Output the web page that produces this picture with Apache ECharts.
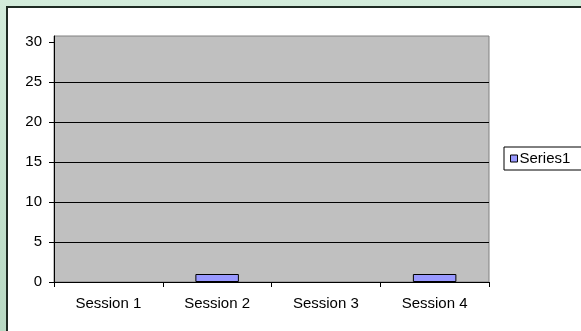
<!DOCTYPE html>
<html>
<head>
<meta charset="utf-8">
<script src="https://cdn.jsdelivr.net/npm/echarts@6/dist/echarts.min.js"></script>
<style>
  html, body { margin: 0; padding: 0; width: 581px; height: 331px; overflow: hidden;
    background: linear-gradient(to bottom, #d3ecdb, #b8d9c3); }
  #frame { position: absolute; left: 6px; top: 6px; width: 600px; height: 340px;
    background: #ffffff; border-left: 2px solid #1e2a22; border-top: 2px solid #1e2a22; }
  #chart { position: absolute; left: 0; top: 0; width: 581px; height: 331px; }
</style>
</head>
<body>
<div id="frame"></div>
<div id="chart"></div>
<script>
// Chart data
const categories = ['Session 1', 'Session 2', 'Session 3', 'Session 4'];
const series1 = [0, 1, 0, 1];
const yTicks = [0, 5, 10, 15, 20, 25, 30];
const seriesName = 'Series1';

const chart = echarts.init(document.getElementById('chart'), null, { renderer: 'canvas' });
const font = 'Liberation Sans, Arial, sans-serif';

// Zero-height bars are left undrawn (no outline sliver on the axis)
const barData = series1.map(v => v === 0
  ? { value: v, itemStyle: { borderWidth: 0, opacity: 0 } }
  : { value: v });

chart.setOption({
  animation: false,
  backgroundColor: 'transparent',
  grid: {
    left: 54, right: 92, top: 36, bottom: 49,
    show: true, backgroundColor: '#c0c0c0', borderColor: '#808080', borderWidth: 1
  },
  legend: {
    data: [seriesName],
    left: 504, top: 147,
    orient: 'vertical',
    backgroundColor: '#ffffff',
    borderColor: '#000000', borderWidth: 1, borderRadius: 0,
    padding: [4, 12, 4, 6],
    icon: 'rect', itemWidth: 7, itemHeight: 7, itemGap: 2,
    textStyle: { fontFamily: font, fontSize: 15, color: '#000', padding: [0, 0, 0, -3] },
    itemStyle: { borderColor: '#000', borderWidth: 1 }
  },
  xAxis: {
    type: 'category',
    data: categories,
    axisLine: { lineStyle: { color: '#000', width: 1 } },
    axisTick: { show: true, alignWithLabel: false, length: 5, lineStyle: { color: '#000' } },
    axisLabel: { fontFamily: font, fontSize: 15, color: '#000', margin: 14 },
    splitLine: { show: false }
  },
  yAxis: {
    type: 'value',
    min: 0, max: 30.75, interval: 5,
    axisLine: { show: true, lineStyle: { color: '#000', width: 1 } },
    axisTick: { show: true, length: 5, lineStyle: { color: '#000' }, customValues: yTicks },
    axisLabel: { fontFamily: font, fontSize: 15, color: '#000', margin: 12, customValues: yTicks },
    splitLine: { show: true, showMaxLine: false, lineStyle: { color: '#000', width: 1 } }
  },
  series: [{
    name: seriesName,
    type: 'bar',
    data: barData,
    barWidth: '40%',
    itemStyle: { color: '#9999ff', borderColor: '#000', borderWidth: 1 }
  }]
});
</script>
</body>
</html>
